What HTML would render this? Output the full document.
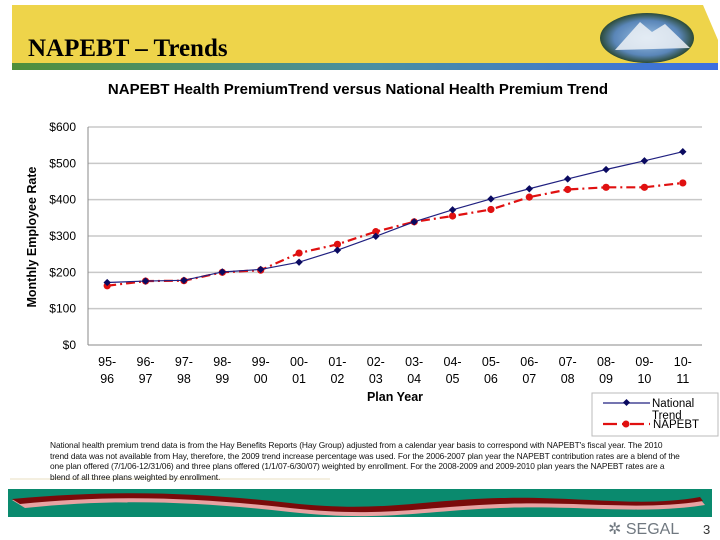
<!DOCTYPE html>
<html><head><meta charset="utf-8">
<style>
body{margin:0;width:720px;height:540px;background:#fff;overflow:hidden;font-family:"Liberation Sans",sans-serif;position:relative}
.abs{position:absolute}
</style></head><body>
<svg class="abs" style="left:0;top:0" width="720" height="540">
  <defs>
    <linearGradient id="stripe" x1="0" x2="1"><stop offset="0" stop-color="#4f8f3a"/><stop offset="0.5" stop-color="#4a8fa0"/><stop offset="1" stop-color="#3d6fe0"/></linearGradient>
    <radialGradient id="oval" cx="0.5" cy="0.5" r="0.5"><stop offset="0" stop-color="#9fc4e8"/><stop offset="0.7" stop-color="#5a86b8"/><stop offset="1" stop-color="#2b4a36"/></radialGradient>
  </defs>
  <polygon points="12,5 703,5 718,40 718,63 12,63" fill="#eed44a"/>
  <rect x="12" y="63" width="706" height="7" fill="url(#stripe)"/>
  <ellipse cx="647" cy="38" rx="47" ry="25" fill="url(#oval)"/>
  <polygon points="615,50 640,22 652,32 665,24 690,48" fill="#eef2f6" opacity="0.85"/>
  <text x="28" y="56" font-family="Liberation Serif,serif" font-weight="bold" font-size="25">NAPEBT – Trends</text>
  <rect x="8" y="489" width="704" height="28" fill="#0a8a6e"/>
  <path d="M12,500 C120,490 200,495 290,505 C380,515 420,502 500,500 C580,498 640,510 700,499 L705,505 C640,515 580,505 500,508 C420,511 380,522 290,512 C200,502 120,498 25,508 Z" fill="#e8a2a2"/>
  <path d="M12,499 C120,489 200,493 290,503 C380,513 420,500 500,498 C580,496 640,508 700,497 L703,501 C640,511 580,501 500,504 C420,507 380,518 290,508 C200,498 120,494 20,504 Z" fill="#7a0a0a"/>
  <text x="608" y="534" font-size="16" fill="#707880">✲ SEGAL</text>
  <text x="703" y="534" font-size="13" fill="#333">3</text>
  <line x1="10" y1="479" x2="330" y2="479" stroke="#e8dfc0" stroke-width="1"/>
</svg>

<svg id="chart" class="abs" style="left:0;top:0" width="720" height="488"></svg>

<div class="abs" style="left:50px;top:440px;width:630px;font-size:8.4px;line-height:10.6px;color:#111;letter-spacing:-0.1px">National health premium trend data is from the Hay Benefits Reports (Hay Group) adjusted from a calendar year basis to correspond with NAPEBT's fiscal year. The 2010 trend data was not available from Hay, therefore, the 2009 trend increase percentage was used. For the 2006-2007 plan year the NAPEBT contribution rates are a blend of the one plan offered (7/1/06-12/31/06) and three plans offered (1/1/07-6/30/07) weighted by enrollment. For the 2008-2009 and 2009-2010 plan years the NAPEBT rates are a blend of all three plans weighted by enrollment.</div>

<script>
const categories=[["95-","96"],["96-","97"],["97-","98"],["98-","99"],["99-","00"],["00-","01"],["01-","02"],["02-","03"],["03-","04"],["04-","05"],["05-","06"],["06-","07"],["07-","08"],["08-","09"],["09-","10"],["10-","11"]];
const nationalTrend=[172,176,178,201,208,228,261,299,339,372,402,430,457,483,507,532];
const napebt=[163,176,177,200,206,253,277,312,339,355,373,407,428,434,434,446];
const yTicks=[0,100,200,300,400,500,600];
const yTickLabels=["$0","$100","$200","$300","$400","$500","$600"];

const NS="http://www.w3.org/2000/svg";
const svg=document.getElementById('chart');
const L=88,R=702,T=127,B=345,yMax=600;
const x=i=>L+(i+0.5)*(R-L)/categories.length;
const y=v=>B-v/yMax*(B-T);
function mk(tag,attrs,parent){const e=document.createElementNS(NS,tag);for(const k in attrs)e.setAttribute(k,attrs[k]);(parent||svg).appendChild(e);return e;}

const title=mk('text',{x:358,y:94,'text-anchor':'middle','font-size':'15','font-weight':'bold'});


title.textContent='NAPEBT Health PremiumTrend versus National Health Premium Trend';

yTicks.forEach((t,i)=>{
  const g=mk('line',{x1:L,x2:R,y1:y(t),y2:y(t),stroke:t===0?'#888':'#c8c8c8','stroke-width':t===0?1:1.5});
  
  
  const lb=mk('text',{x:76,y:y(t)+4,'text-anchor':'end','font-size':'12'});
  
  
  lb.textContent=yTickLabels[i];
});
const ax=mk('line',{x1:L,x2:L,y1:T,y2:B,stroke:'#888'});



categories.forEach((c,i)=>{
  const t=mk('text',{x:x(i),y:366,'text-anchor':'middle','font-size':'12.5'});
  
  
  c.forEach((s,j)=>{const ts=mk('tspan',{x:x(i),dy:j?17:0},t);ts.textContent=s;});
});

const yt=mk('text',{x:0,y:0,'text-anchor':'middle','font-size':'12.5','font-weight':'bold',transform:'translate(36,237) rotate(-90)'});


yt.textContent='Monthly Employee Rate';
const xt=mk('text',{x:395,y:401,'text-anchor':'middle','font-size':'12.5','font-weight':'bold'});


xt.textContent='Plan Year';

const redLine=mk('polyline',{points:napebt.map((v,i)=>x(i)+','+y(v)).join(' '),fill:'none',stroke:'#e01010','stroke-width':2.2,'stroke-dasharray':'9,4,2,4'});


napebt.forEach((v,i)=>{
  const c=mk('circle',{cx:x(i),cy:y(v),r:3.6,fill:'#e01010'});
  
  
});
const blueLine=mk('polyline',{points:nationalTrend.map((v,i)=>x(i)+','+y(v)).join(' '),fill:'none',stroke:'#202080','stroke-width':1.2});


nationalTrend.forEach((v,i)=>{
  const d=mk('rect',{x:x(i)-2.6,y:y(v)-2.6,width:5.2,height:5.2,fill:'#0a0a60',transform:`rotate(45 ${x(i)} ${y(v)})`});
  
  
});

const lg=mk('g',{});


mk('rect',{x:592,y:393,width:126,height:43,fill:'#fff',stroke:'#bbb'},lg);
mk('line',{x1:603,x2:650,y1:403,y2:403,stroke:'#202080','stroke-width':1.2},lg);
mk('rect',{x:624,y:400,width:5,height:5,fill:'#0a0a60',transform:'rotate(45 626.5 402.5)'},lg);
const l1=mk('text',{x:652,y:407,'font-size':'11.5'},lg);


l1.textContent='National';
const l1b=mk('text',{x:652,y:419,'font-size':'11.5'},lg);l1b.textContent='Trend';
mk('line',{x1:603,x2:650,y1:424,y2:424,stroke:'#e01010','stroke-width':2.2,'stroke-dasharray':'14,5,3,5'},lg);
mk('circle',{cx:626,cy:424,r:3.5,fill:'#e01010'},lg);
const l2=mk('text',{x:653,y:428,'font-size':'11.5'},lg);


l2.textContent='NAPEBT';
</script>
</body></html>
